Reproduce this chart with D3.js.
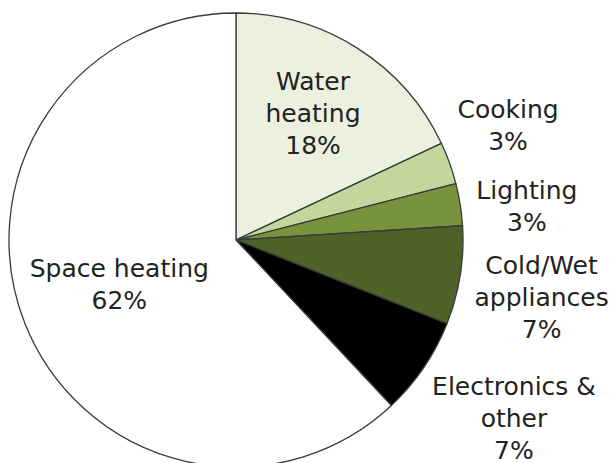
<!DOCTYPE html>
<html>
<head>
<meta charset="utf-8">
<script src="https://cdn.jsdelivr.net/npm/d3@7"></script>
<style>
  html, body { margin: 0; padding: 0; background: #fff; }
  svg { display: block; }
  text { font-family: "DejaVu Sans", Verdana, sans-serif; font-size: 25px; fill: #222; }
</style>
</head>
<body>
<svg id="pie"></svg>
<script>
// chart data
const categories = ['Water heating', 'Cooking', 'Lighting', 'Cold/Wet appliances', 'Electronics & other', 'Space heating'];
const values = [18, 3, 3, 7, 7, 62];
const labelLines = [
  ['Water', 'heating', '18%'],
  ['Cooking', '3%'],
  ['Lighting', '3%'],
  ['Cold/Wet', 'appliances', '7%'],
  ['Electronics &', 'other', '7%'],
  ['Space heating', '62%']
];
const colors = ['#ebf1de', '#c3d69b', '#77933c', '#4f6228', '#000000', '#ffffff'];

// label placement: radius factor and angle tweak (degrees) per slice
const labelRadius = [0.655, 1.30, 1.29, 1.37, 1.455, 0.55];
const labelTweak = [-1.2, -3, 2.4, 1.7, -1.5, 0.8];

const width = 613;
const height = 463;
const cx = 236, cy = 240, radius = 227;
const lineHeight = 32;

const svg = d3.select('svg#pie')
  .attr('width', width)
  .attr('height', height);

const data = categories.map((c, i) => ({name: c, value: values[i], i: i}));

const pie = d3.pie()
  .value(d => d.value)
  .sort(null);

const arc = d3.arc()
  .innerRadius(0)
  .outerRadius(radius);

const arcs = pie(data);

const g = svg.append('g')
  .attr('transform', `translate(${cx},${cy})`);

g.selectAll('path').data(arcs)
  .join('path')
  .attr('d', arc)
  .attr('fill', d => colors[d.data.i])
  .attr('stroke', '#3a3a3a')
  .attr('stroke-width', 1.3)
  .attr('stroke-linejoin', 'round');

const labels = g.selectAll('g.label').data(arcs)
  .join('g')
  .attr('class', 'label')
  .attr('transform', d => {
    const a = (d.startAngle + d.endAngle) / 2 + labelTweak[d.data.i] * Math.PI / 180;
    const r = radius * labelRadius[d.data.i];
    return `translate(${r * Math.sin(a)},${-r * Math.cos(a)})`;
  });

labels.each(function(d) {
  const lines = labelLines[d.data.i];
  const t = d3.select(this).append('text')
    .attr('text-anchor', 'middle');
  lines.forEach((ln, k) => {
    t.append('tspan')
      .attr('x', 0)
      .attr('y', (k - (lines.length - 1) / 2) * lineHeight)
      .attr('dy', '0.35em')
      .text(ln);
  });
});
</script>
</body>
</html>
